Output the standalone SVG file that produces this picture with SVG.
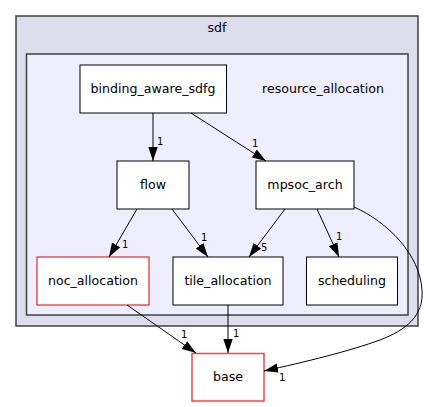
<svg xmlns="http://www.w3.org/2000/svg" width="435" height="407" viewBox="0 0 435 407">
<style>
text{font-family:"DejaVu Sans","Liberation Sans",sans-serif;font-size:12.6px;fill:#000}
text.l{font-size:10px}
.n{fill:#fff;stroke:#000;stroke-width:1}
.e{fill:none;stroke:#000;stroke-width:1}
.c{text-anchor:middle}
</style>
<defs>
<marker id="a" markerUnits="userSpaceOnUse" markerWidth="14" markerHeight="10" refX="14" refY="5" orient="auto">
<path d="M0,0.3 L14,5 L0,9.7 z" fill="#000"/>
</marker>
</defs>
<g id="cluster_sdf">
<rect x="16" y="16" width="402" height="310" fill="#ddddee" stroke="#404040" stroke-width="1.5"/>
<text x="217" y="32" class="c">sdf</text>
</g>
<g id="cluster_resource_allocation">
<rect x="26.5" y="54" width="381.5" height="261" fill="#eeeeff" stroke="#404040" stroke-width="1.5"/>
<text x="323" y="93" class="c">resource_allocation</text>
</g>
<g id="binding_aware_sdfg">
<rect class="n" x="80" y="65" width="146.5" height="48"/>
<text x="153" y="93" class="c">binding_aware_sdfg</text>
</g>
<g id="flow">
<rect class="n" x="117" y="161" width="72" height="48"/>
<text x="153" y="189" class="c">flow</text>
</g>
<g id="mpsoc_arch">
<rect class="n" x="256" y="161" width="98" height="48"/>
<text x="305" y="189" class="c">mpsoc_arch</text>
</g>
<g id="noc_allocation">
<rect x="37" y="257" width="112" height="48" fill="#fff" stroke="#e00000" stroke-width="1"/>
<text x="93" y="285" class="c">noc_allocation</text>
</g>
<g id="tile_allocation">
<rect class="n" x="173" y="257" width="110" height="48"/>
<text x="228" y="285" class="c">tile_allocation</text>
</g>
<g id="scheduling">
<rect class="n" x="306.5" y="257" width="91" height="48"/>
<text x="352" y="285" class="c">scheduling</text>
</g>
<g id="base">
<rect x="192" y="353.5" width="72" height="47.5" fill="#fff" stroke="#ff4040" stroke-width="1.5"/>
<text x="228" y="381" class="c">base</text>
</g>
<g id="edges">
<path class="e" d="M153,113 L153,161" marker-end="url(#a)"/>
<text class="l" x="157" y="145">1</text>
<path class="e" d="M191,113 L266,161" marker-end="url(#a)"/>
<text class="l" x="252" y="147">1</text>
<path class="e" d="M137,209 L109,257" marker-end="url(#a)"/>
<text class="l" x="122" y="248">1</text>
<path class="e" d="M172,209 L208,257" marker-end="url(#a)"/>
<text class="l" x="201" y="241">1</text>
<path class="e" d="M285,209 L249,257" marker-end="url(#a)"/>
<text class="l" x="261" y="251">5</text>
<path class="e" d="M317,209 L339,257" marker-end="url(#a)"/>
<text class="l" x="336" y="240">1</text>
<path class="e" d="M354,207 C388,222 420,255 422,290 C424,316 406,330 380,340 C350,351 305,362 264,371" marker-end="url(#a)"/>
<text class="l" x="279" y="381">1</text>
<path class="e" d="M127,305 L196,353" marker-end="url(#a)"/>
<text class="l" x="181" y="338">1</text>
<path class="e" d="M228,305 L228,353" marker-end="url(#a)"/>
<text class="l" x="233" y="337">1</text>
</g>
</svg>
